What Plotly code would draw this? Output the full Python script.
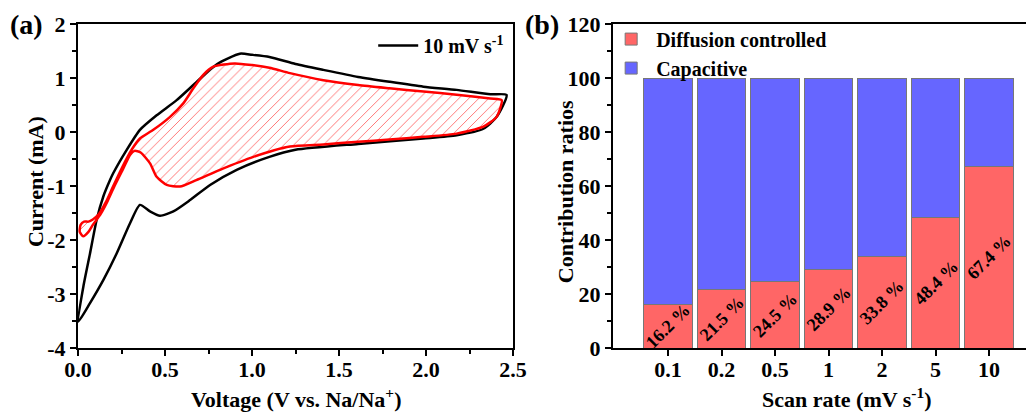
import plotly.graph_objects as go

# ---------- Panel (a): CV curves ----------
black_v = [2.463, 2.37, 2.176, 1.985, 1.79, 1.61, 1.41, 1.25, 1.10, 1.0, 0.93, 0.80, 0.683, 0.567,
           0.452, 0.356, 0.28, 0.203, 0.184, 0.146, 0.107, 0.069, 0.031, 0.002,
           0.069, 0.146, 0.222, 0.299, 0.356, 0.414, 0.471, 0.548, 0.644, 0.759, 0.912, 1.10,
           1.25, 1.61, 1.985, 2.176, 2.33, 2.406, 2.463]
black_i = [0.685, 0.70, 0.78, 0.84, 0.93, 1.02, 1.15, 1.26, 1.39, 1.43, 1.45, 1.26, 0.93, 0.59,
           0.31, 0.04, -0.33, -0.76, -0.89, -1.19, -1.63, -2.25, -2.86, -3.51,
           -3.17, -2.74, -2.25, -1.69, -1.35, -1.47, -1.55, -1.47, -1.26, -0.98, -0.70, -0.46,
           -0.33, -0.22, -0.12, -0.06, 0.06, 0.28, 0.685]

red_v = [2.435, 2.37, 2.176, 1.985, 1.79, 1.61, 1.41, 1.218, 1.10, 1.0, 0.90, 0.778, 0.72, 0.663,
         0.605, 0.529, 0.433, 0.356, 0.31,
         0.25, 0.20, 0.16, 0.12, 0.085, 0.06, 0.035, 0.015, 0.01, 0.03, 0.06, 0.085, 0.13, 0.17,
         0.21, 0.26, 0.30, 0.325, 0.36, 0.414, 0.452, 0.51, 0.586, 0.68, 0.816, 1.008, 1.218,
         1.41, 1.61, 1.79, 1.985, 2.176, 2.33, 2.406, 2.435]
red_i = [0.59, 0.62, 0.69, 0.75, 0.81, 0.87, 0.96, 1.09, 1.19, 1.24, 1.27, 1.21, 1.06, 0.81,
         0.53, 0.28, 0.04, -0.12, -0.32,
         -0.68, -1.02, -1.30, -1.52, -1.62, -1.66, -1.66, -1.72, -1.85, -1.93, -1.85, -1.72, -1.52, -1.28,
         -1.00, -0.68, -0.42, -0.35, -0.38, -0.58, -0.83, -0.98, -1.01, -0.89, -0.70, -0.46, -0.27,
         -0.23, -0.18, -0.14, -0.09, -0.03, 0.10, 0.28, 0.59]

# ---------- Panel (b): contribution ratios ----------
scan_rates = ["0.1", "0.2", "0.5", "1", "2", "5", "10"]
diffusion = [16.2, 21.5, 24.5, 28.9, 33.8, 48.4, 67.4]
capacitive = [83.8, 78.5, 75.5, 71.1, 66.2, 51.6, 32.6]

FONT = "Liberation Serif"
fig = go.Figure()

fig.add_trace(go.Scatter(x=black_v, y=black_i, mode="lines", name="10 mV s<sup>-1</sup>",
                         line=dict(color="black", width=2.5, shape="spline", smoothing=0.6),
                         xaxis="x", yaxis="y", legend="legend2"))
fig.add_trace(go.Scatter(x=red_v, y=red_i, mode="lines", showlegend=False,
                         line=dict(color="red", width=2.5, shape="spline", smoothing=0.6),
                         fill="toself", fillcolor="rgba(0,0,0,0)",
                         fillpattern=dict(shape="/", fgcolor="rgba(255,60,60,0.7)", bgcolor="rgba(255,255,255,0)",
                                          size=7, solidity=0.14),
                         xaxis="x", yaxis="y"))

fig.add_trace(go.Bar(x=scan_rates, y=diffusion, name="Diffusion controlled",
                     marker=dict(color="#FF6666", line=dict(color="#777777", width=1)),
                     width=0.91, xaxis="x2", yaxis="y2", legend="legend"))
fig.add_trace(go.Bar(x=scan_rates, y=capacitive, name="Capacitive",
                     marker=dict(color="#6666FF", line=dict(color="#777777", width=1)),
                     width=0.91, xaxis="x2", yaxis="y2", legend="legend"))

for idx, d in enumerate(diffusion):
    fig.add_annotation(x=idx, y=d / 2, xref="x2", yref="y2", text=f"{d} %", showarrow=False,
                       textangle=-45, xanchor="center", yanchor="middle",
                       font=dict(family=FONT, size=18, color="black", weight="bold"))

axis_common = dict(showline=True, linecolor="black", linewidth=2, ticks="outside", ticklen=6,
                   tickwidth=2, tickcolor="black", showgrid=False, zeroline=False,
                   tickfont=dict(family=FONT, size=22, color="black", weight="bold"),
                   automargin=False)

W, H = 1026, 405
fig.update_layout(
    width=W, height=H,
    margin=dict(l=0, r=0, t=16, b=65, autoexpand=False),
    template="none",
    paper_bgcolor="white", plot_bgcolor="white",
    font=dict(family=FONT, color="black", weight="bold"),
    barmode="stack",
    xaxis=dict(domain=[70 / W, 505 / W], range=[0, 2.5], tickvals=[0, 0.5, 1.0, 1.5, 2.0, 2.5],
               ticktext=["0.0", "0.5", "1.0", "1.5", "2.0", "2.5"], mirror=True, ticklabelstandoff=-5,
               minor=dict(ticks="outside", ticklen=4, tickwidth=1.5, tickcolor="black", dtick=0.25, tick0=0),
               **axis_common),
    yaxis=dict(domain=[0, 1], range=[-4, 2], tickvals=[-4, -3, -2, -1, 0, 1, 2],
               ticktext=["-4", "-3", "-2", "-1", "0", "1", "2"], mirror=True,
               minor=dict(ticks="outside", ticklen=4, tickwidth=1.5, tickcolor="black", dtick=0.5, tick0=0),
               **axis_common),
    xaxis2=dict(domain=[605 / W, 1.0], range=[-1.03, 6.84], type="category", mirror=True,
                ticklabelstandoff=-5, anchor="y2", **axis_common),
    yaxis2=dict(domain=[0, 1], range=[0, 120], tickvals=[0, 20, 40, 60, 80, 100, 120],
                minor=dict(ticks="outside", ticklen=4, tickwidth=1.5, tickcolor="black", dtick=10, tick0=0),
                anchor="x2", **axis_common),
    legend=dict(x=0.583, y=1.0136, xanchor="left", yanchor="top", traceorder="normal",
                bgcolor="rgba(0,0,0,0)", font=dict(family=FONT, size=20, color="black", weight="bold"),
                itemwidth=40, tracegroupgap=0),
    legend2=dict(x=0.4885, y=0.9938, xanchor="right", yanchor="top",
                 bgcolor="rgba(0,0,0,0)", font=dict(family=FONT, size=20, color="black", weight="bold"),
                 itemwidth=40),
)

title_font = dict(family=FONT, size=22, color="black", weight="bold")
titles = [
    ("Voltage (V vs. Na/Na<sup>+</sup>)", 288 / W, -0.154, 0),
    ("Scan rate (mV s<sup>-1</sup>)", 838 / W, -0.154, 0),
    ("Current (mA)", 27 / W, 0.512, -90),
    ("Contribution ratios", 557 / W, 0.481, -90),
]
for txt, px, py, ang in titles:
    fig.add_annotation(x=px, y=py, xref="paper", yref="paper", text=txt, showarrow=False,
                       textangle=ang, xanchor="center", yanchor="middle", font=title_font)

fig.add_annotation(x=18 / W, y=1.0, xref="paper", yref="paper", text="(a)", showarrow=False,
                   xanchor="center", yanchor="middle", font=dict(family=FONT, size=28, color="black", weight="bold"))
fig.add_annotation(x=534 / W, y=1.0, xref="paper", yref="paper", text="(b)", showarrow=False,
                   xanchor="center", yanchor="middle", font=dict(family=FONT, size=28, color="black", weight="bold"))

fig.write_html("out.html")
